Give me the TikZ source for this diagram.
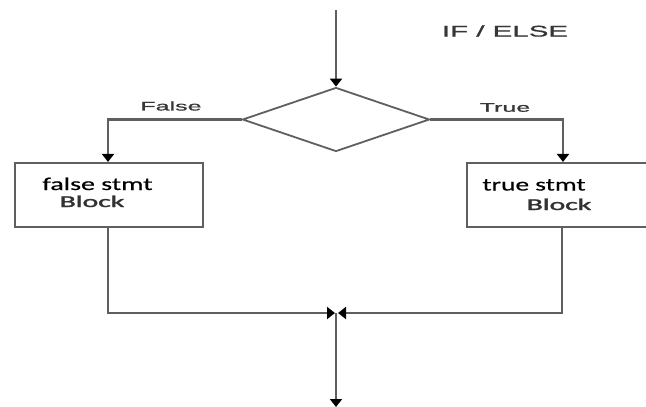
\documentclass[tikz,border=0pt]{standalone}
\usepackage{fontspec}
\setmainfont{Liberation Sans}[FakeBold=0.9]
\newfontfamily\calibrifont{Carlito}[FakeBold=0.5]
\newfontfamily\calibriheavy{Carlito}[FakeBold=1.6]
\usetikzlibrary{shapes.geometric,arrows.meta}
\definecolor{linegray}{RGB}{95,95,95}
\definecolor{txtgray}{RGB}{55,55,55}
\definecolor{blockgray}{RGB}{50,50,50}
\tikzset{
  flow/.style={draw=linegray, line width=2.1pt},
  conn/.style={flow, -{Triangle[length=8pt,width=12pt,fill=black,color=black]}},
  blockbox/.style={draw=linegray, line width=2.1pt, rectangle, inner sep=0pt},
  decision/.style={draw=linegray, line width=1.8pt, diamond, inner sep=0pt,
    minimum width=187pt, minimum height=64pt},
  arial/.style={inner sep=0pt, text=txtgray, font=\fontsize{12.5}{14}\selectfont},
  calib/.style={inner sep=0pt, text=black, font=\calibrifont\fontsize{18}{20}\selectfont},
  blockword/.style={inner sep=0pt, text=blockgray, font=\calibriheavy\fontsize{16.5}{18}\selectfont},
}
\begin{document}
\begin{tikzpicture}[x=1pt, y=-1pt]
  \useasboundingbox (0,0) rectangle (646,407);
  \clip (0,0) rectangle (646,407);

  % title
  \node[arial, font=\fontsize{15.5}{17}\selectfont] (title) at (505,31) {\scalebox{1.9}[1]{IF / ELSE}};

  % decision diamond
  \node[decision] (cond) at (336,119.5) {};
  \coordinate (start) at (336,10);
  \draw[conn] (start) -- (cond.north);

  % branch boxes
  \node[blockbox, minimum width=188pt, minimum height=64pt] (fbox) at (109,195) {};
  \node[blockbox, minimum width=186pt, minimum height=64pt] (tbox) at (560,195) {};

  \coordinate (fcorner) at (108,119.5);
  \coordinate (tcorner) at (563,119.5);
  \draw[conn] (cond.west) -- (fcorner) -- (fbox.north -| fcorner);
  \draw[conn] (cond.east) -- (tcorner) -- (tbox.north -| tcorner);

  \node[arial] (flabel) at (171,106) {\scalebox{2}[1]{False}};
  \node[arial] (tlabel) at (505,107.5) {\scalebox{2}[1]{True}};

  % box texts
  \node[calib, anchor=base] (ftext) at (97.5,190) {\scalebox{1.55}[1]{false stmt}};
  \node[blockword, anchor=base] (fblock) at (92,207) {\scalebox{1.8}[1]{Block}};
  \node[calib, anchor=base] (ttext) at (534,190.5) {\scalebox{1.52}[1]{true stmt}};
  \node[blockword, anchor=base] (tblock) at (559,210) {\scalebox{1.8}[1]{Block}};

  % merge
  \coordinate (fdown) at (108,313);
  \coordinate (tdown) at (562,313);
  \coordinate (mleft) at (335,313);
  \coordinate (mright) at (338,313);
  \coordinate (join) at (336,313);
  \coordinate (finish) at (336,407);
  \draw[conn] (fbox.south -| fdown) -- (fdown) -- (mleft);
  \draw[conn] (tbox.south -| tdown) -- (tdown) -- (mright);
  \draw[conn] (join) -- (finish);
\end{tikzpicture}
\end{document}
